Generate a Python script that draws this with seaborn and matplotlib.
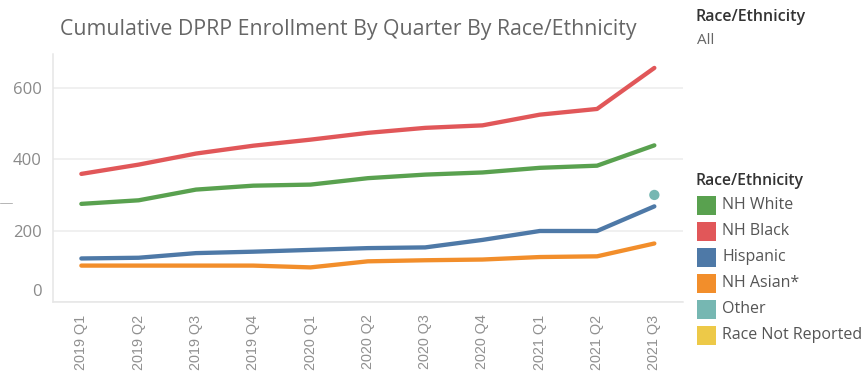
import matplotlib
matplotlib.use("Agg")
import matplotlib.pyplot as plt
import matplotlib.transforms as mtransforms
from matplotlib.patches import Rectangle
from matplotlib.lines import Line2D
import seaborn as sns
import pandas as pd

quarters = ["2019 Q1", "2019 Q2", "2019 Q3", "2019 Q4", "2020 Q1", "2020 Q2",
            "2020 Q3", "2020 Q4", "2021 Q1", "2021 Q2", "2021 Q3"]

nh_white = [275, 285, 315, 326, 329, 347, 357, 363, 376, 382, 439]
nh_black = [359, 385, 416, 438, 455, 474, 488, 495, 525, 541, 656]
hispanic = [122, 124, 137, 141, 146, 151, 153, 174, 199, 199, 268]
nh_asian = [102, 102, 102, 102, 97, 114, 117, 119, 126, 128, 164]
other_quarter = ["2021 Q3"]
other = [300]

legend_labels = ["NH White", "NH Black", "Hispanic", "NH Asian*", "Other",
                 "Race Not Reported"]
palette = {"NH White": "#59A14F", "NH Black": "#E15759", "Hispanic": "#4E79A7",
           "NH Asian*": "#F28E2B", "Other": "#76B7B2",
           "Race Not Reported": "#EDC948"}

series = {"NH White": nh_white, "NH Black": nh_black,
          "Hispanic": hispanic, "NH Asian*": nh_asian}
rows = []
for name, vals in series.items():
    for q, v in zip(quarters, vals):
        rows.append({"Quarter": q, "Enrollment": v, "Race": name})
df = pd.DataFrame(rows)
df_other = pd.DataFrame({"Quarter": other_quarter, "Enrollment": other,
                         "Race": ["Other"] * len(other)})

sns.set_theme(style="white")
plt.rcParams["font.family"] = ["Lato", "DejaVu Sans"]

W, H = 863, 372
fig = plt.figure(figsize=(W / 100, H / 100), dpi=100)
ax = fig.add_axes([52.7 / W, (H - 302) / H, (683 - 52.7) / W, (302 - 54) / H])

order = {q: i for i, q in enumerate(quarters)}
df["x"] = df["Quarter"].map(order)
df_other["x"] = df_other["Quarter"].map(order)

sns.lineplot(data=df, x="x", y="Enrollment", hue="Race", palette=palette,
             linewidth=3.1, ax=ax, legend=False, sort=False,
             solid_capstyle="round")
sns.scatterplot(data=df_other, x="x", y="Enrollment", hue="Race",
                palette=palette, s=55, edgecolor="none", ax=ax, legend=False)

ax.set_xlim(-0.5, len(quarters) - 0.5)
ax.set_ylim(0, 695)
ax.set_xlabel("")
ax.set_ylabel("")

# gridlines
ax.set_yticks([0, 200, 400, 600])
ax.yaxis.grid(True, color="#ececec", linewidth=1.1)
ax.xaxis.grid(False)
for s in ["top", "right"]:
    ax.spines[s].set_visible(False)
ax.spines["left"].set_color("#e6e6e6")
ax.spines["bottom"].set_color("#e6e6e6")
ax.spines["left"].set_linewidth(1.1)
ax.spines["bottom"].set_linewidth(1.1)

ax.tick_params(axis="y", length=5, color="#ececec", labelsize=12,
               labelcolor="#8a8a8a", pad=3)
ax.set_yticklabels(["0", "200", "400", "600"])
for lab in ax.get_yticklabels():
    lab.set_fontfamily(["Open Sans", "DejaVu Sans"])
# lift the zero label off the baseline
zero = ax.get_yticklabels()[0]
zero.set_transform(zero.get_transform() +
                   mtransforms.ScaledTranslation(0, 12 / 100, fig.dpi_scale_trans))

# category axis: labels centred on quarters, separators between them
ax.set_xticks(range(len(quarters)))
ax.set_xticklabels(quarters, rotation=90, fontsize=10.4, color="#909090",
                   fontfamily=["Liberation Sans", "DejaVu Sans"])
ax.tick_params(axis="x", length=0, pad=9)
ax.set_xticks([i - 0.5 for i in range(len(quarters) + 1)], minor=True)
ax.tick_params(axis="x", which="minor", length=9, color="#e6e6e6", width=1)
for lab in ax.get_xticklabels():
    lab.set_verticalalignment("top")

# title
fig.text(60 / W, 1 - 30 / H, "Cumulative DPRP Enrollment By Quarter By Race/Ethnicity",
         fontsize=15.3, color="#666666", va="center", ha="left",
         fontfamily=["Open Sans", "DejaVu Sans"])

# filter card
fig.text(695 / W, 1 - 17 / H, "Race/Ethnicity", fontsize=11.5, color="#333333",
         va="center", ha="left", fontweight="semibold",
         fontfamily=["Open Sans", "DejaVu Sans"])
fig.text(697 / W, 1 - 40 / H, "All", fontsize=11, color="#666666",
         va="center", ha="left", fontfamily=["Open Sans", "DejaVu Sans"])

# colour legend
fig.text(695 / W, 1 - 181 / H, "Race/Ethnicity", fontsize=11.3, color="#333333",
         va="center", ha="left", fontweight="semibold",
         fontfamily=["Open Sans", "DejaVu Sans"])
for i, name in enumerate(legend_labels):
    yc = 205 + i * 26
    fig.patches.append(Rectangle((697 / W, 1 - (yc + 9.5) / H), 19 / W, 19 / H,
                                 transform=fig.transFigure,
                                 facecolor=palette[name], edgecolor="none"))
    fig.text(722 / W, 1 - yc / H, name, fontsize=11.5, color="#555555",
             va="center", ha="left", fontfamily=["Open Sans", "DejaVu Sans"])

# small stray mark at the left edge
fig.add_artist(Line2D([0 / W, 12 / W], [1 - 203 / H, 1 - 203 / H],
                      transform=fig.transFigure, color="#b5b5b5", linewidth=0.7))

fig.savefig("out.png", dpi=100, facecolor="white")
